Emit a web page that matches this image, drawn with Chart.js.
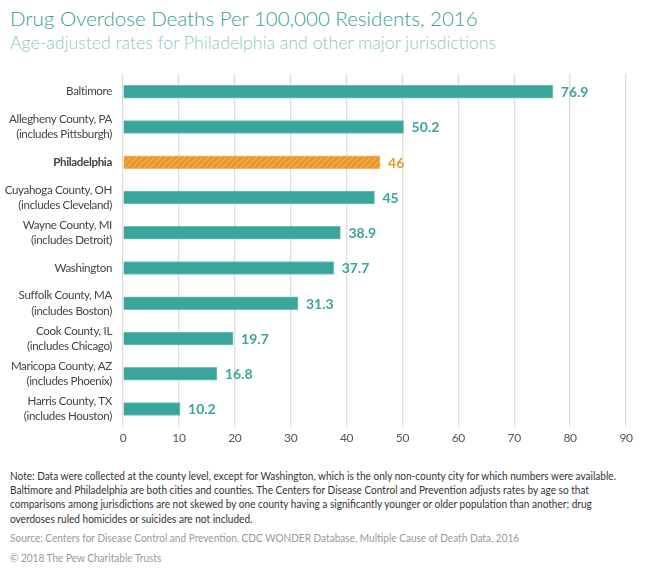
<!DOCTYPE html>
<html>
<head>
<meta charset="utf-8">
<script src="https://cdn.jsdelivr.net/npm/chart.js@4/dist/chart.umd.min.js"></script>
<style>
  body { margin: 0; background: #fff; font-family: Lato, "Open Sans", sans-serif; }
  #wrap { position: relative; width: 650px; height: 572px; overflow: hidden; }
  .title { position: absolute; left: 10px; top: 6px; font-size: 20.5px; font-weight: 300; color: #3a9e96; white-space: nowrap; }
  .subtitle { position: absolute; left: 10px; top: 32px; font-size: 17.7px; font-weight: 300; color: #8dc8c1; white-space: nowrap; }
  #box { position: absolute; left: 0; top: 48px; width: 650px; height: 401px; }
  .small { position: absolute; left: 10px; font-size: 11px; white-space: nowrap; transform: scaleX(0.915); transform-origin: 0 0; }
  .note { top: 469px; line-height: 14.2px; color: #333; }
  .source { top: 531px; color: #999; }
  .copy { top: 551px; color: #999; }
</style>
</head>
<body>
<div id="wrap">
  <div class="title">Drug Overdose Deaths Per 100,000 Residents, 2016</div>
  <div class="subtitle">Age-adjusted rates for Philadelphia and other major jurisdictions</div>
  <div id="box"><canvas id="chart"></canvas></div>
  <div class="small note">Note: Data were collected at the county level, except for Washington, which is the only non-county city for which numbers were available.<br>Baltimore and Philadelphia are both cities and counties. The Centers for Disease Control and Prevention adjusts rates by age so that<br>comparisons among jurisdictions are not skewed by one county having a significantly younger or older population than another; drug<br>overdoses ruled homicides or suicides are not included.</div>
  <div class="small source">Source: Centers for Disease Control and Prevention, CDC WONDER Database, Multiple Cause of Death Data, 2016</div>
  <div class="small copy">© 2018 The Pew Charitable Trusts</div>
</div>
<script>
const jurisdictions = [
    ["Baltimore"],
    ["Allegheny County, PA", "(includes Pittsburgh)"],
    ["Philadelphia"],
    ["Cuyahoga County, OH", "(includes Cleveland)"],
    ["Wayne County, MI", "(includes Detroit)"],
    ["Washington"],
    ["Suffolk County, MA", "(includes Boston)"],
    ["Cook County, IL", "(includes Chicago)"],
    ["Maricopa County, AZ", "(includes Phoenix)"],
    ["Harris County, TX", "(includes Houston)"]
];
const rates = [76.9, 50.2, 46, 45, 38.9, 37.7, 31.3, 19.7, 16.8, 10.2];
const rateLabels = ["76.9", "50.2", "46", "45", "38.9", "37.7", "31.3", "19.7", "16.8", "10.2"];
const highlight = 2;

const teal = "#3aa59b";
const orange = "#e8982a";

// Hatched orange fill for the highlighted bar
const hatch = function() {
    const c = document.createElement("canvas");
    c.width = 6; c.height = 6;
    const g = c.getContext("2d");
    g.fillStyle = orange;
    g.fillRect(0, 0, 6, 6);
    g.strokeStyle = "rgba(255, 205, 120, 0.5)";
    g.lineWidth = 1.2;
    g.beginPath();
    g.moveTo(0, 6); g.lineTo(6, 0);
    g.moveTo(-3, 3); g.lineTo(3, -3);
    g.moveTo(3, 9); g.lineTo(9, 3);
    g.stroke();
    return g.createPattern(c, "repeat");
}();

const colors = rates.map((v, i) => i === highlight ? hatch : teal);

// tighter letters for the category labels (the original font is narrow)
const narrowText = {
    id: "narrowText",
    beforeDraw(chart) { chart.ctx.letterSpacing = "-0.35px"; },
    afterDraw(chart) { chart.ctx.letterSpacing = "0px"; }
};

// value labels at bar ends
const valueLabels = {
    id: "valueLabels",
    afterDatasetsDraw(chart) {
        const ctx = chart.ctx;
        const meta = chart.getDatasetMeta(0);
        ctx.save();
        ctx.letterSpacing = "0px";
        ctx.font = "bold 14px Lato, sans-serif";
        ctx.textBaseline = "middle";
        meta.data.forEach((bar, i) => {
            ctx.fillStyle = i === highlight ? orange : teal;
            ctx.fillText(rateLabels[i], bar.x + 8, bar.y + 1);
        });
        ctx.restore();
    }
};

new Chart(document.getElementById("chart"), {
    type: "bar",
    data: {
        labels: jurisdictions,
        datasets: [{
            data: rates,
            backgroundColor: colors,
            borderColor: rates.map((v, i) => i === highlight ? "#f0b868" : "#6fbfb6"),
            borderWidth: 1,
            barThickness: 13
        }]
    },
    options: {
        indexAxis: "y",
        responsive: true,
        maintainAspectRatio: false,
        animation: false,
        layout: { padding: { top: 1, right: 24, left: 0, bottom: 0 } },
        scales: {
            x: {
                min: 0,
                max: 90,
                ticks: { stepSize: 10, color: "#555", font: { family: "Lato", size: 12 }, padding: 4 },
                grid: { color: "#dedede", lineWidth: 1.3, drawTicks: false },
                border: { display: false }
            },
            y: {
                afterFit(scale) { scale.width = 123; },
                ticks: {
                    color: "#444",
                    padding: 11,
                    font: (ctx) => ({
                        family: "Lato",
                        size: 11.6,
                        weight: ctx.index === highlight ? "bold" : "normal",
                        lineHeight: 1.3
                    })
                },
                grid: { display: false, drawTicks: false },
                border: { display: false }
            }
        },
        plugins: {
            legend: { display: false },
            tooltip: { enabled: false }
        }
    },
    plugins: [narrowText, valueLabels]
});
</script>
</body>
</html>
